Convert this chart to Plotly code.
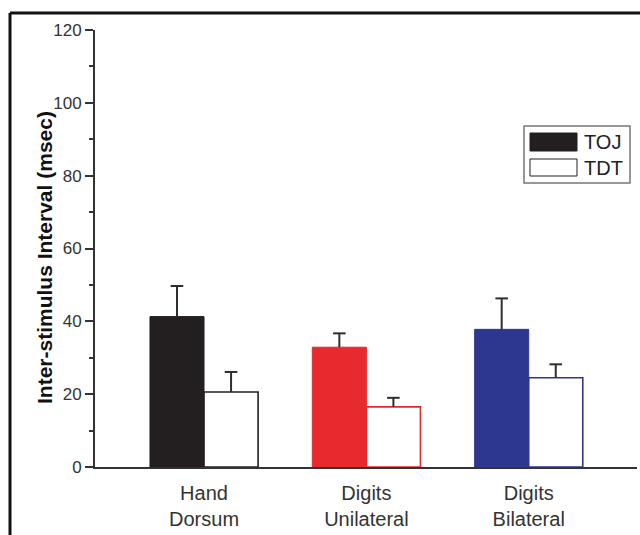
import plotly.graph_objects as go

categories = ["Hand<br>Dorsum", "Digits<br>Unilateral", "Digits<br>Bilateral"]
toj_values = [41.3, 32.9, 37.8]
toj_err = [8.4, 3.8, 8.5]
tdt_values = [20.6, 16.5, 24.5]
tdt_err = [5.5, 2.5, 3.7]
group_colors = ["#231f20", "#e62a2d", "#2e3790"]
y_ticks = [0, 20, 40, 60, 80, 100, 120]

BW = 0.333
pos = list(range(len(categories)))
ERR_COLOR = "#2e2e2e"

fig = go.Figure()
fig.add_trace(go.Bar(
    x=pos, y=toj_values, width=BW, offset=-BW,
    marker=dict(color=group_colors, line=dict(color=group_colors, width=1)),
    error_y=dict(type="data", symmetric=False, array=toj_err, arrayminus=[0]*3,
                 width=0, thickness=2, color=ERR_COLOR),
    name="TOJ", showlegend=False,
))
fig.add_trace(go.Bar(
    x=pos, y=tdt_values, width=BW, offset=0,
    marker=dict(color="white", line=dict(color=group_colors, width=1.6)),
    error_y=dict(type="data", symmetric=False, array=tdt_err, arrayminus=[0]*3,
                 width=0, thickness=2, color=ERR_COLOR),
    name="TDT", showlegend=False,
))
# error bar caps
fig.add_trace(go.Scatter(
    x=[p - BW / 2 for p in pos] + [p + BW / 2 for p in pos],
    y=[v + e for v, e in zip(toj_values, toj_err)] + [v + e for v, e in zip(tdt_values, tdt_err)],
    mode="markers",
    marker=dict(symbol="line-ew-open", size=9, color=ERR_COLOR, line=dict(color=ERR_COLOR, width=2)),
    showlegend=False, hoverinfo="skip",
))

W, H = 640, 535
L, R, T, B = 95, 3, 30, 68
pw, ph = W - L - R, H - T - B

def px(x):
    return (x - L) / pw

def py(y):
    return (H - B - y) / ph

shapes = [
    # outer frame (top and left)
    dict(type="line", xref="paper", yref="paper", x0=px(10), x1=px(641), y0=py(13), y1=py(13),
         line=dict(color="#111111", width=3)),
    dict(type="line", xref="paper", yref="paper", x0=px(10), x1=px(10), y0=py(13), y1=py(540),
         line=dict(color="#111111", width=3)),
    # legend box
    dict(type="rect", xref="paper", yref="paper", x0=px(524), x1=px(630), y0=py(126), y1=py(183),
         line=dict(color="#777777", width=1.5), fillcolor="white"),
    dict(type="rect", xref="paper", yref="paper", x0=px(530), x1=px(577), y0=py(133), y1=py(151),
         line=dict(color="#231f20", width=1), fillcolor="#231f20"),
    dict(type="rect", xref="paper", yref="paper", x0=px(530), x1=px(577), y0=py(159), y1=py(176),
         line=dict(color="#231f20", width=1), fillcolor="white"),
]

annotations = [
    dict(text="TOJ", xref="paper", yref="paper", x=px(582), y=py(142), xanchor="left", yanchor="middle",
         showarrow=False, font=dict(size=20, color="#222222")),
    dict(text="TDT", xref="paper", yref="paper", x=px(582), y=py(168), xanchor="left", yanchor="middle",
         showarrow=False, font=dict(size=20, color="#222222")),
    dict(text="<b>Inter-stimulus Interval (msec)</b>", xref="paper", yref="paper",
         x=px(44), y=py(258), textangle=-90, showarrow=False, xanchor="center", yanchor="middle",
         font=dict(size=21, color="#111111")),
]

fig.update_layout(
    width=W, height=H,
    margin=dict(l=L, r=R, t=T, b=B, autoexpand=False),
    paper_bgcolor="white", plot_bgcolor="white",
    font=dict(family="Liberation Sans, Arial, sans-serif", color="#333333"),
    shapes=shapes, annotations=annotations,
    showlegend=False,
    xaxis=dict(
        range=[-0.6716, 2.667], tickvals=pos, ticktext=categories,
        showgrid=False, zeroline=False, showline=True, linecolor="#333333", linewidth=2,
        ticks="outside", ticklen=7, tickcolor="rgba(0,0,0,0)",
        tickfont=dict(size=20, color="#333333"),
    ),
    yaxis=dict(
        range=[0, 120], tickvals=y_ticks,
        showgrid=False, zeroline=False, showline=True, linecolor="#333333", linewidth=2,
        ticks="outside", ticklen=8, tickwidth=2, tickcolor="#333333",
        minor=dict(dtick=10, ticks="outside", ticklen=4, tickwidth=1.5, tickcolor="#333333"),
        tickfont=dict(size=17, color="#333333"),
    ),
)

fig.write_html("out.html", config={"displayModeBar": False},
               post_script="document.body.style.margin='0';document.body.style.overflow='hidden';")
